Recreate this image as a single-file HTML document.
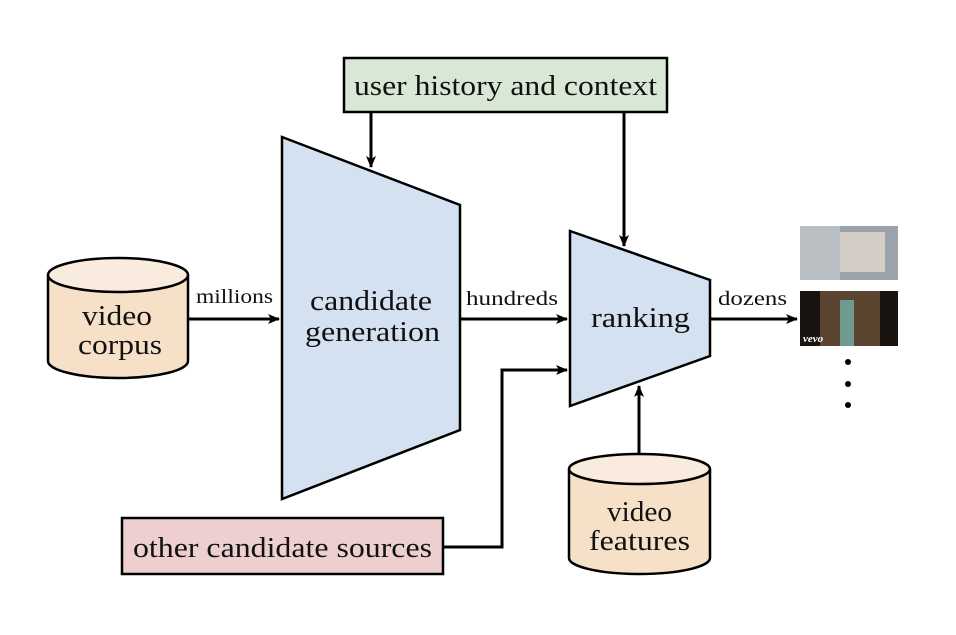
<!DOCTYPE html>
<html><head><style>body{margin:0;background:#fff}svg{display:block}text{font-family:"Liberation Serif","DejaVu Serif",serif;fill:#111}</style></head><body>
<svg width="956" height="635" viewBox="0 0 956 635" xmlns="http://www.w3.org/2000/svg">
<defs><marker id="a" markerWidth="12" markerHeight="10" refX="11" refY="5" orient="auto" markerUnits="userSpaceOnUse"><path d="M0,0 L12,5 L0,10 L3,5 Z" fill="#000"/></marker></defs>
<g stroke="#000" stroke-width="2.5">
<rect x="344" y="58" width="323" height="54" fill="#d9e8d4"/>
<rect x="122" y="518" width="321" height="56" fill="#edcfcf"/>
<polygon points="282,137 460,205 460,430 282,499" fill="#d3e1f0"/>
<polygon points="570,231 710,280 710,356 570,406" fill="#d3e1f0"/>
<path d="M48,275 L48,361 A70,17 0 0 0 188,361 L188,275" fill="#f7e0c8"/>
<ellipse cx="118" cy="275" rx="70" ry="17" fill="#f9ebdd"/>
<path d="M569,469 L569,558 A70.5,16 0 0 0 710,558 L710,469" fill="#f7e0c8"/>
<ellipse cx="639.5" cy="469" rx="70.5" ry="15" fill="#f9ebdd"/>
</g>
<g stroke="#000" stroke-width="3" fill="none" marker-end="url(#a)">
<line x1="188" y1="319" x2="279" y2="319"/>
<line x1="460" y1="319" x2="567" y2="319"/>
<line x1="710" y1="319" x2="797" y2="319"/>
<line x1="371" y1="112" x2="371" y2="167"/>
<line x1="624" y1="112" x2="624" y2="246"/>
<polyline points="443,547 502,547 502,370 567,370"/>
<line x1="639" y1="454" x2="639" y2="386"/>
</g>
<rect x="800" y="226" width="98" height="54" fill="#9aa3ab"/>
<rect x="800" y="226" width="40" height="54" fill="#b8bec2"/>
<rect x="840" y="232" width="45" height="40" fill="#d4cdc5"/>
<rect x="800" y="291" width="98" height="55" fill="#1a1410"/>
<rect x="820" y="291" width="60" height="55" fill="#5a4530"/>
<rect x="840" y="300" width="14" height="46" fill="#6f9a90"/>
<text x="803" y="342" font-size="11" font-style="italic" font-weight="bold" style="fill:#fff">vevo</text>
<g fill="#000"><circle cx="848" cy="362" r="3"/><circle cx="848" cy="384" r="3"/><circle cx="848" cy="405" r="3"/></g>
<g font-size="28" lengthAdjust="spacingAndGlyphs">
<text x="354" y="95" textLength="303" lengthAdjust="spacingAndGlyphs">user history and context</text>
<text x="133" y="557" textLength="299" lengthAdjust="spacingAndGlyphs">other candidate sources</text>
<text x="310" y="310" textLength="122" lengthAdjust="spacingAndGlyphs">candidate</text>
<text x="305" y="341" textLength="135" lengthAdjust="spacingAndGlyphs">generation</text>
<text x="591" y="327" textLength="99" lengthAdjust="spacingAndGlyphs">ranking</text>
<text x="82" y="325" textLength="70" lengthAdjust="spacingAndGlyphs">video</text>
<text x="78" y="354" textLength="84" lengthAdjust="spacingAndGlyphs">corpus</text>
<text x="607" y="521" textLength="65" lengthAdjust="spacingAndGlyphs">video</text>
<text x="589" y="550" textLength="101" lengthAdjust="spacingAndGlyphs">features</text>
</g>
<g font-size="20">
<text x="196" y="303" textLength="77" lengthAdjust="spacingAndGlyphs">millions</text>
<text x="466" y="305" textLength="92" lengthAdjust="spacingAndGlyphs">hundreds</text>
<text x="718" y="305" textLength="69" lengthAdjust="spacingAndGlyphs">dozens</text>
</g>
</svg>
</body></html>
